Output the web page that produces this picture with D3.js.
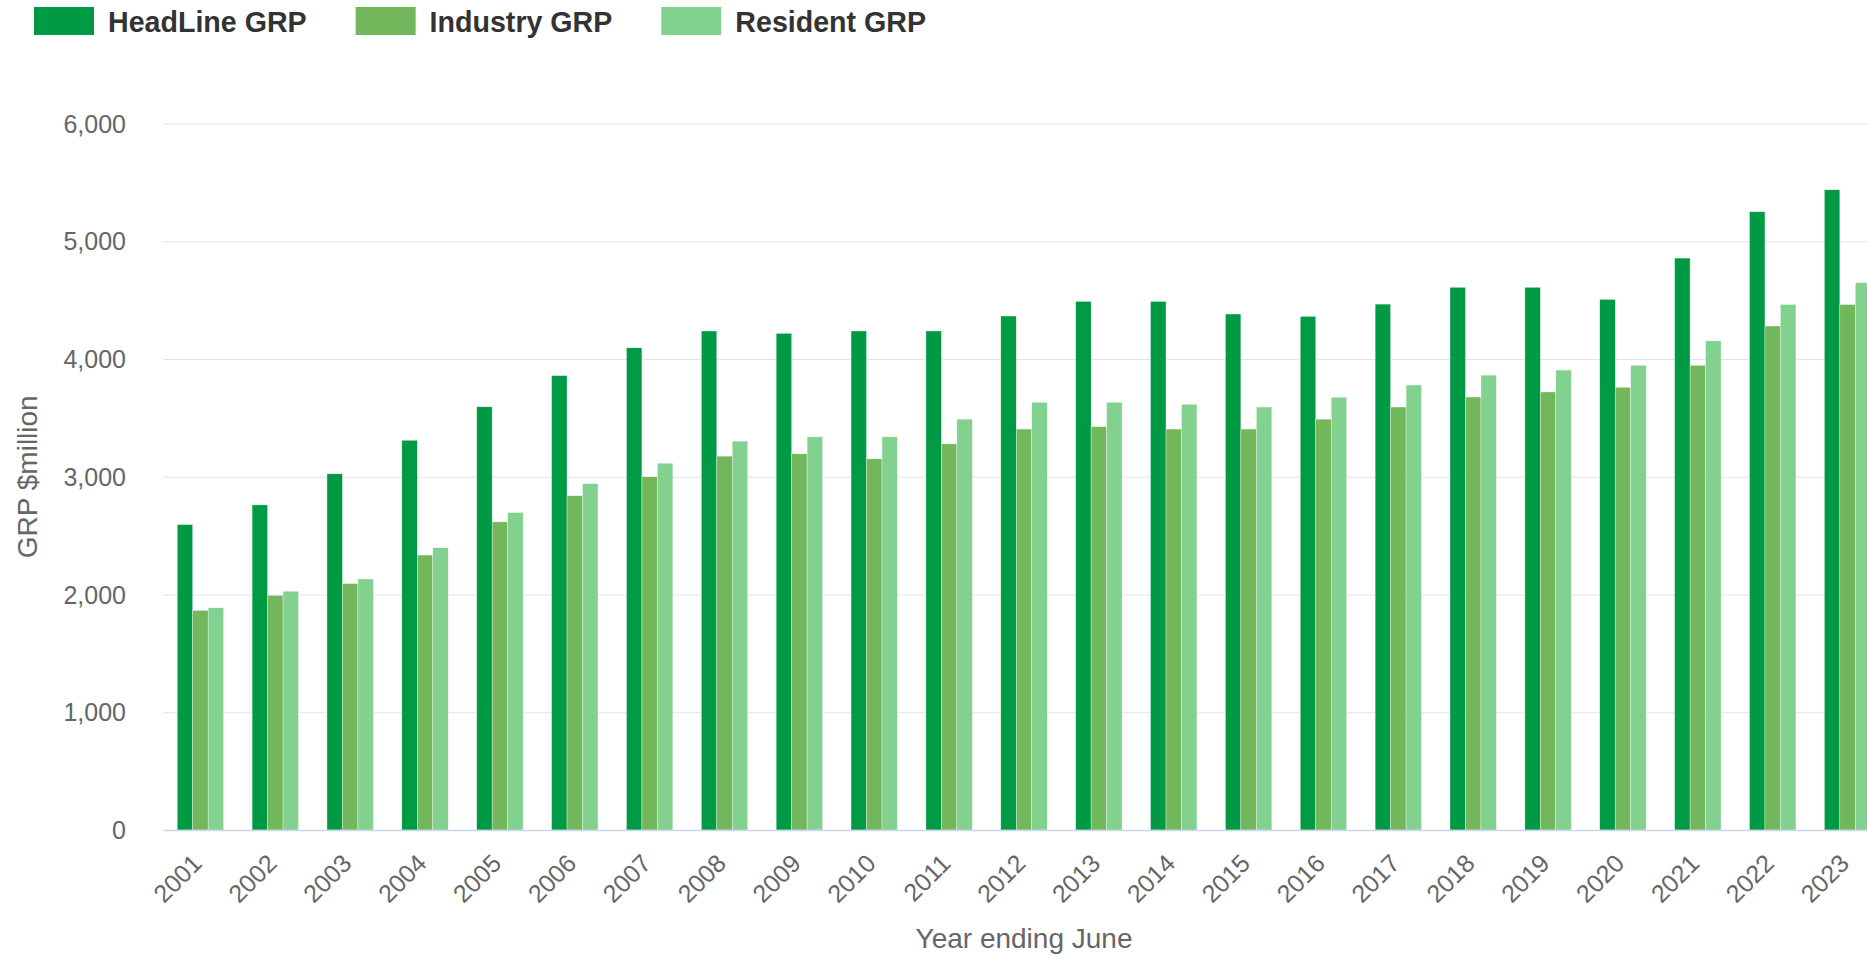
<!DOCTYPE html>
<html>
<head>
<meta charset="utf-8">
<script src="https://cdn.jsdelivr.net/npm/d3@7"></script>
<style>
  html, body { margin: 0; padding: 0; background: #fff; overflow: hidden; }
  svg { display: block; font-family: "Liberation Sans", Arial, sans-serif; }
</style>
</head>
<body>
<svg id="chart" width="1867" height="956"></svg>
<script>
const years = ["2001","2002","2003","2004","2005","2006","2007","2008","2009","2010","2011","2012",
               "2013","2014","2015","2016","2017","2018","2019","2020","2021","2022","2023"];
const seriesNames = ["HeadLine GRP", "Industry GRP", "Resident GRP"];
const headline = [2594,2761,3025,3310,3594,3859,4095,4238,4218,4238,4238,4365,
                  4489,4489,4382,4362,4466,4609,4609,4506,4857,5251,5437];
const industry = [1865,1992,2093,2335,2617,2839,3000,3175,3195,3152,3279,3405,
                  3425,3405,3405,3489,3592,3677,3720,3760,3946,4280,4463];
const resident = [1887,2028,2132,2397,2696,2941,3115,3302,3339,3339,3489,3632,
                  3632,3615,3592,3675,3779,3863,3906,3946,4154,4463,4649];
const yTicks = [0,1000,2000,3000,4000,5000,6000];
const colors = ["#009A44", "#72B75B", "#82D18F"];

const svg = d3.select("#chart");
const plotL = 163, plotR = 1885, plotT = 123.5, plotB = 830;

const x = d3.scaleBand().domain(years).range([plotL, plotR]).paddingInner(0).paddingOuter(0);
const bw = x.bandwidth();
const xs = d3.scaleBand().domain(seriesNames).range([bw * 0.19, bw * 0.81]).padding(0);
const y = d3.scaleLinear().domain([0, 6000]).range([plotB, plotT]);

// gridlines
const yAxis = d3.axisLeft(y).tickValues(yTicks).tickSize(-(plotR - plotL)).tickFormat(d3.format(","));
const gy = svg.append("g").attr("transform", `translate(${plotL},0)`).call(yAxis);
gy.select(".domain").remove();
gy.selectAll(".tick line").attr("stroke", "#e3e3e3").attr("stroke-width", 1.2)
  .filter(d => d === 0).remove();
gy.selectAll(".tick text").attr("x", -37).attr("dy", "0.34em")
  .attr("fill", "#666666").style("font-size", "25px").attr("text-anchor", "end");

// bars
const data = [headline, industry, resident];
const groups = svg.append("g").selectAll("g").data(years).join("g")
  .attr("transform", d => `translate(${x(d)},0)`);
groups.selectAll("rect").data((d, i) => seriesNames.map((s, k) => ({s, k, v: data[k][i]})))
  .join("rect")
  .attr("x", d => xs(d.s))
  .attr("width", xs.bandwidth())
  .attr("y", d => y(d.v))
  .attr("height", d => y(0) - y(d.v))
  .attr("fill", d => colors[d.k])
  .attr("stroke", "#ffffff").attr("stroke-width", 0.5).attr("stroke-opacity", 0.7);

// x axis
const xAxis = d3.axisBottom(x).tickSize(0).tickSizeOuter(0);
const gx = svg.append("g").attr("transform", `translate(0,${plotB})`).call(xAxis);
gx.select(".domain").attr("stroke", "#ccd6eb").attr("stroke-width", 1.5);
gx.selectAll(".tick text")
  .attr("fill", "#666666").style("font-size", "25px")
  .attr("text-anchor", "end")
  .attr("dy", null).attr("y", 0)
  .attr("transform", "translate(3,35) rotate(-45)");

// axis titles
svg.append("text").attr("transform", `translate(37,${(plotT + plotB) / 2}) rotate(-90)`)
  .attr("text-anchor", "middle").attr("fill", "#666666").style("font-size", "28px")
  .text("GRP $million");
svg.append("text").attr("x", (plotL + plotR) / 2).attr("y", 948)
  .attr("text-anchor", "middle").attr("fill", "#666666").style("font-size", "28px")
  .text("Year ending June");

// legend
const legend = svg.append("g");
let lx = 34;
seriesNames.forEach((name, k) => {
  legend.append("rect").attr("x", lx).attr("y", 7).attr("width", 60).attr("height", 28)
    .attr("fill", colors[k]);
  const t = legend.append("text").attr("x", lx + 74).attr("y", 31.5)
    .attr("fill", "#333333").style("font-size", "28.6px").style("font-weight", "bold")
    .text(name);
  lx = lx + 74 + t.node().getComputedTextLength() + 49;
});
</script>
</body>
</html>
